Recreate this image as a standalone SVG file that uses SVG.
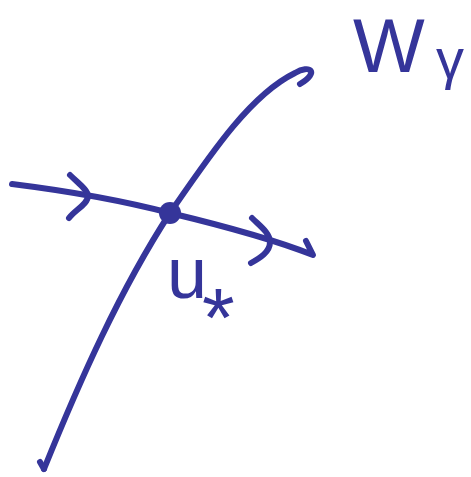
<svg xmlns="http://www.w3.org/2000/svg" width="471" height="477" viewBox="0 0 471 477">
<style>
.s{fill:none;stroke:#35359a;stroke-width:6;stroke-linecap:round;stroke-linejoin:round}
.t{fill:#35359a;font-family:"Liberation Sans",Arial,sans-serif}
</style>
<rect width="471" height="477" fill="#ffffff"/>
<g id="connectors">
<path class="s" d="M44,469 C80,380 120,290 170,213 C210,155 250,95 295,73 C310,64 320,72 300,84"/>
<path class="s" d="M44,469 L40,462"/>
<path class="s" d="M12,184 C60,190 120,200 170,213 C220,225 270,238 313,255 L306,241"/>
<path class="s" d="M70,175 C78,183 88,190 88,196 C88,204 75,210 69,218"/>
<path class="s" d="M252,218 C260,226 270,233 270,242 C270,252 260,258 251,263"/>
</g>
<g id="node-ustar">
<circle cx="170" cy="213" r="11" fill="#35359a"/>
<text class="t" x="167" y="298" font-size="72">u</text>
<text class="t" x="202" y="347" font-size="84">*</text>
</g>
<g id="node-Wgamma">
<text class="t" x="353" y="72" font-size="76">W</text>
<text class="t" x="436" y="78" font-size="56" font-family="DejaVu Sans, sans-serif">γ</text>
</g>
</svg>
